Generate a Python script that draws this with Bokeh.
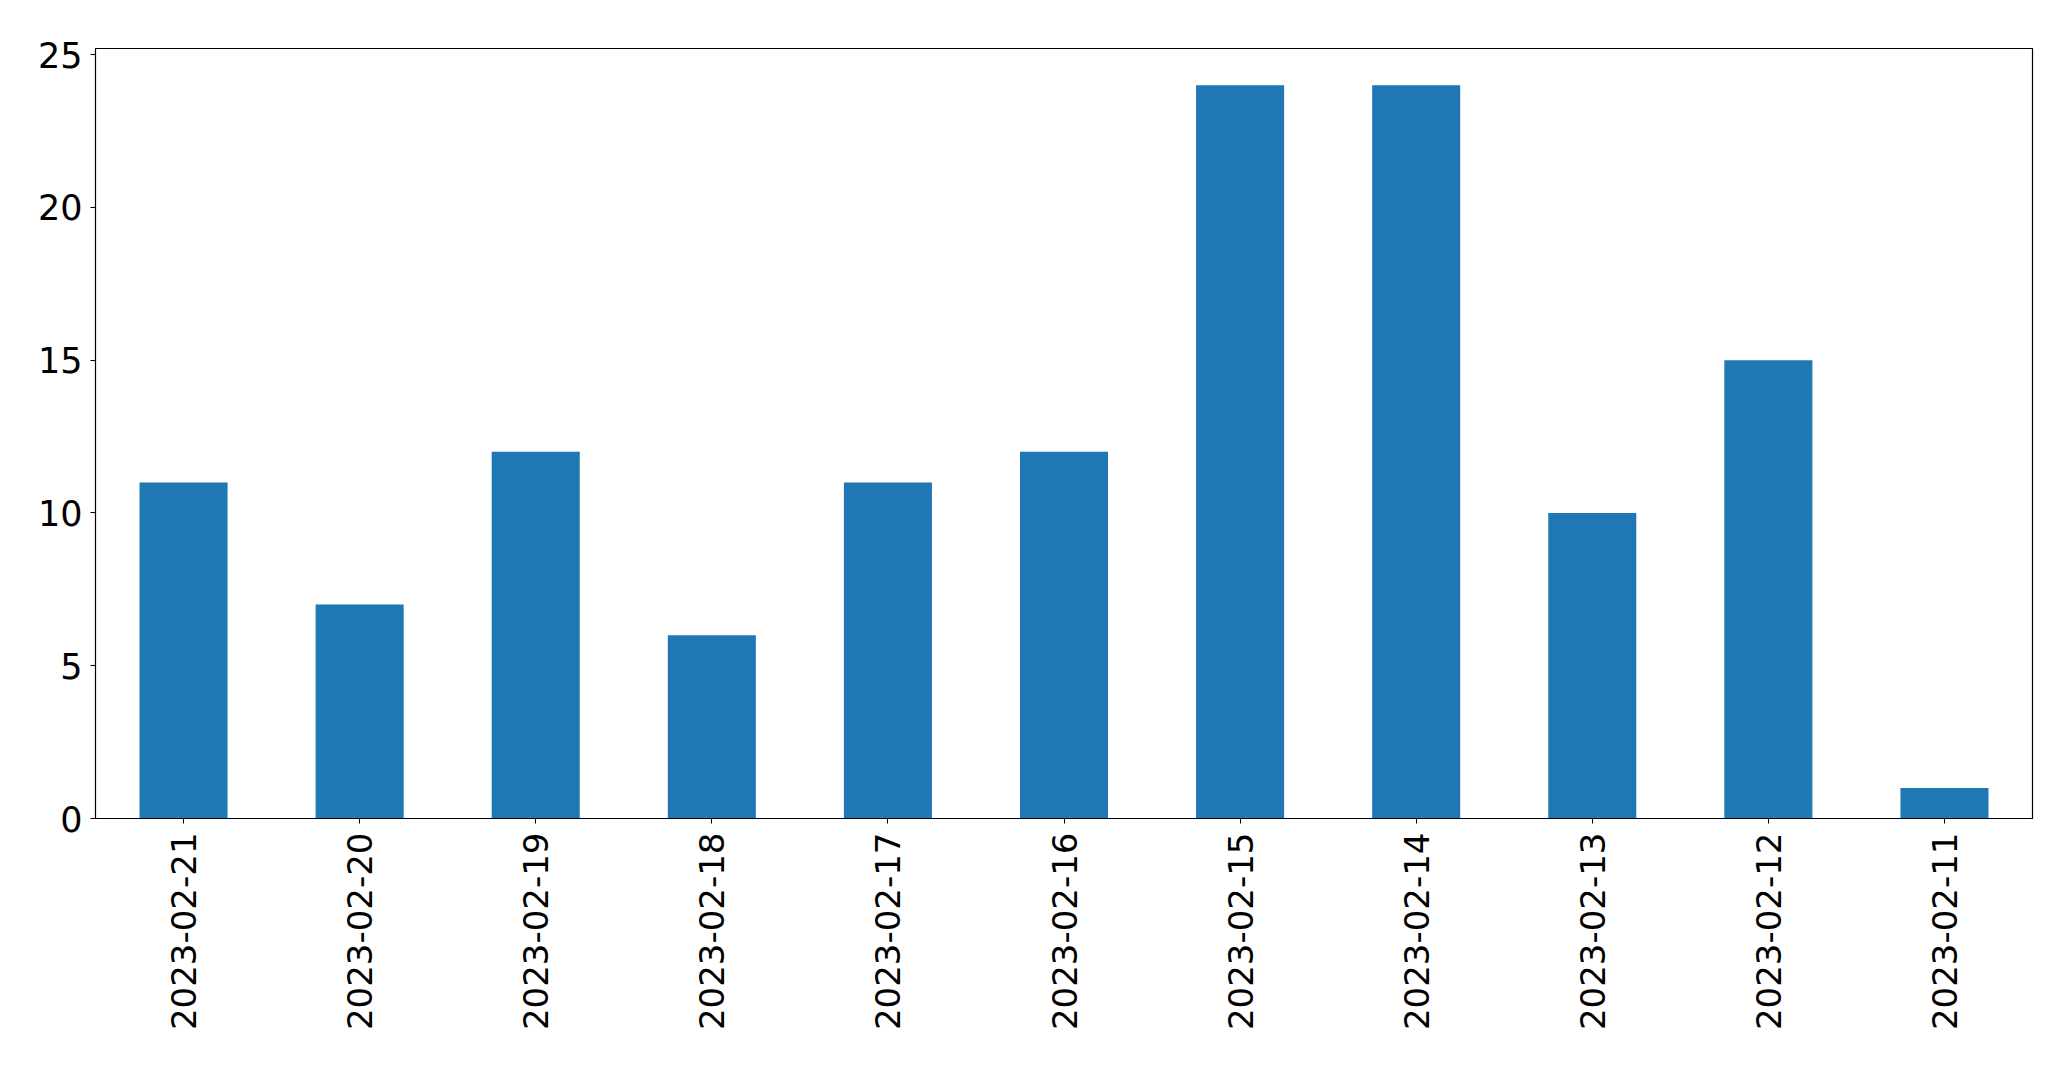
from bokeh.plotting import figure
from bokeh.models import FactorRange, Range1d, FixedTicker
from bokeh.embed import file_html
from bokeh.resources import INLINE
import math

dates = ["2023-02-21", "2023-02-20", "2023-02-19", "2023-02-18", "2023-02-17",
         "2023-02-16", "2023-02-15", "2023-02-14", "2023-02-13", "2023-02-12",
         "2023-02-11"]
counts = [11, 7, 12, 6, 11, 12, 24, 24, 10, 15, 1]
y_ticks = [0, 5, 10, 15, 20, 25]

p = figure(x_range=FactorRange(*dates), y_range=Range1d(0, 25.2),
           frame_width=1937, frame_height=770,
           min_border_left=95, min_border_top=48, min_border_right=20, min_border_bottom=40,
           output_backend="svg", toolbar_location=None)

p.vbar(x=dates, top=counts, width=0.5, color="#1f77b4", line_color=None)

p.xgrid.visible = False
p.ygrid.visible = False
p.outline_line_color = "black"
p.outline_line_width = 1.2
p.background_fill_color = "white"
p.border_fill_color = "white"

for ax in (p.xaxis, p.yaxis):
    ax.axis_line_color = "black"
    ax.major_tick_line_color = "black"
    ax.major_tick_out = 5
    ax.major_tick_in = 0
    ax.minor_tick_line_color = None
    ax.major_label_text_font = "DejaVu Sans"
    ax.major_label_text_font_size = "34px"
    ax.major_label_text_color = "black"

p.yaxis.major_label_text_font_size = "35px"
p.yaxis.ticker = FixedTicker(ticks=y_ticks)
p.yaxis.major_label_standoff = 8
p.xaxis.major_label_orientation = math.pi / 2
p.xaxis.major_label_standoff = 9

open("out.html", "w").write(file_html(p, INLINE))
